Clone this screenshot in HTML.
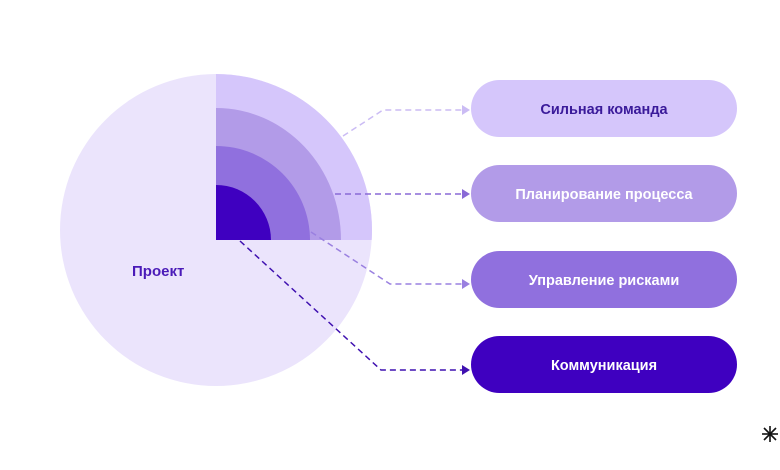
<!DOCTYPE html>
<html><head><meta charset="utf-8"><style>
html,body{margin:0;padding:0;background:#fff;width:780px;height:470px;overflow:hidden}
svg text{font-family:"Liberation Sans",sans-serif;font-weight:bold}
</style></head><body>
<svg width="780" height="470" viewBox="0 0 780 470" xmlns="http://www.w3.org/2000/svg">
<defs>
<clipPath id="q"><rect x="216" y="0" width="200" height="240"/></clipPath>
</defs>
<circle cx="216" cy="230" r="156" fill="#ebe4fc"/>
<circle cx="216" cy="230" r="156" fill="#d5c6fb" clip-path="url(#q)"/>
<path d="M216 240 L216 108 A125 132 0 0 1 341 240 Z" fill="#b29be8"/>
<path d="M216 240 L216 146 A94 94 0 0 1 310 240 Z" fill="#9070de"/>
<path d="M216 240 L216 185 A55 55 0 0 1 271 240 Z" fill="#3f00c0"/>
<text x="132" y="276" font-size="15" fill="#4a1ab8">Проект</text>
<g fill="none" stroke-width="1.5" stroke-dasharray="6,4">
<path d="M343 136 L383 110 L462 110" stroke="#cbbcf4"/>
<path d="M335 194 L462 194" stroke="#8a6ad6"/>
<path d="M311 232 L390 284 L462 284" stroke="#9a80e0"/>
<path d="M240 241 L381 370 L462 370" stroke="#3f10b0"/>
</g>
<path d="M462 105 L470 110 L462 115Z" fill="#cbbcf4"/>
<path d="M462 189 L470 194 L462 199Z" fill="#8a6ad6"/>
<path d="M462 279 L470 284 L462 289Z" fill="#9a80e0"/>
<path d="M462 365 L470 370 L462 375Z" fill="#3f10b0"/>
<rect x="471" y="80" width="266" height="57" rx="28.5" fill="#d5c6fb"/>
<rect x="471" y="165" width="266" height="57" rx="28.5" fill="#b29be8"/>
<rect x="471" y="251" width="266" height="57" rx="28.5" fill="#9070de"/>
<rect x="471" y="336" width="266" height="57" rx="28.5" fill="#3f00c0"/>
<g font-size="14.5" text-anchor="middle">
<text x="604" y="114" fill="#3a1a9a">Сильная команда</text>
<text x="604" y="199" fill="#fff">Планирование процесса</text>
<text x="604" y="285" fill="#fff">Управление рисками</text>
<text x="604" y="370" fill="#fff">Коммуникация</text>
</g>
<g stroke="#111" stroke-width="1.6">
<line x1="770" y1="426" x2="770" y2="442"/>
<line x1="762" y1="434" x2="778" y2="434"/>
<line x1="764" y1="428" x2="776" y2="440"/>
<line x1="776" y1="428" x2="764" y2="440"/>
</g>
</svg>
</body></html>
